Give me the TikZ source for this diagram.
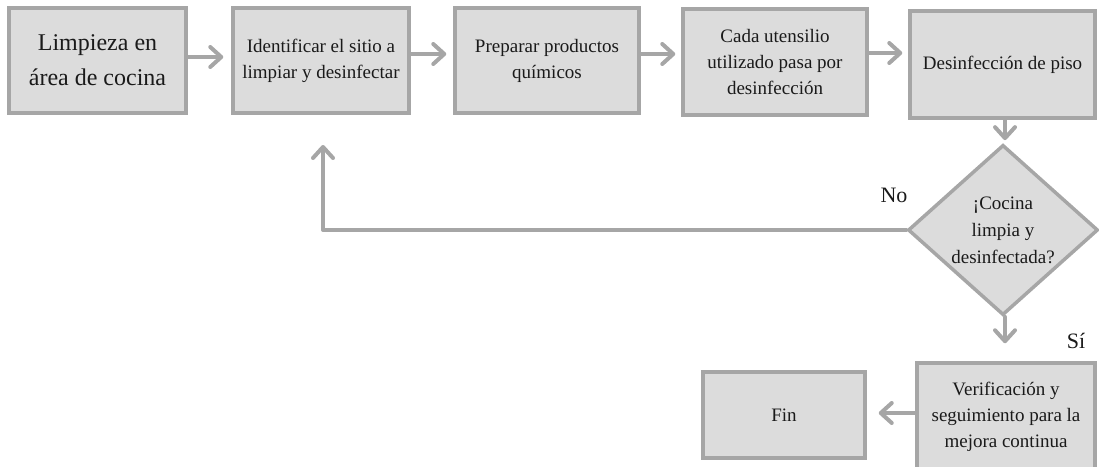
\documentclass[tikz,border=0pt]{standalone}
\usepackage{fontspec}
\setmainfont{Liberation Serif}
\usetikzlibrary{arrows.meta,shapes.geometric}
\definecolor{boxfill}{HTML}{DCDCDC}
\definecolor{boxline}{HTML}{A6A6A6}
\definecolor{txt}{HTML}{1A1A1A}
\begin{document}
\begin{tikzpicture}[x=1pt,y=-1pt,
  stepbox/.style={draw=boxline,fill=boxfill,line width=3.5pt,align=center,
    text=txt,inner sep=2pt,font=\fontsize{19}{26}\selectfont},
  decision/.style={diamond,draw=boxline,fill=boxfill,line width=3.5pt,align=center,
    text=txt,inner sep=0pt,font=\fontsize{19}{27}\selectfont},
  flow/.style={draw=boxline,line width=4pt,line cap=round,line join=round,
    -{Straight Barb[length=11pt,width=20pt,line cap=round,line join=round]}},
  lbl/.style={text=txt,font=\fontsize{22}{26}\selectfont}]
\useasboundingbox (0,0) rectangle (1099,466);

% process steps along the top row
\node[stepbox,minimum width=177pt,minimum height=105pt,font=\fontsize{24}{35}\selectfont]
  (b1) at (97.5,60.5) {Limpieza en\\área de cocina};
\node[stepbox,minimum width=176pt,minimum height=105pt] (b2) at (321,60.5)
  {Identificar el sitio a\\limpiar y desinfectar};
\node[stepbox,minimum width=184pt,minimum height=105pt] (b3) at (547,60.5)
  {Preparar productos\\químicos};
\node[stepbox,minimum width=184pt,minimum height=106pt] (b4) at (775,62)
  {Cada utensilio\\utilizado pasa por\\desinfección};
\node[stepbox,minimum width=185pt,minimum height=107pt] (b5) at (1002.5,64.5)
  {Desinfección de piso};

% check
\node[decision,minimum width=190pt,minimum height=150pt] (d) at (1003,230)
  {¡Cocina\\limpia y\\desinfectada?};

% closing steps (the last box runs past the lower edge)
\node[stepbox,minimum width=178pt,minimum height=108pt] (b6) at (1006,417)
  {Verificación y\\seguimiento para la\\mejora continua};
\node[stepbox,minimum width=162pt,minimum height=86pt] (fin) at (784,415) {Fin};

% connectors
\draw[flow,shorten >=8pt] (b1.east |- 0,57) -- (b2.west |- 0,57);
\draw[flow,shorten >=7pt] (b2.east |- 0,54) -- (b3.west |- 0,54);
\draw[flow,shorten >=6pt] (b3.east |- 0,54) -- (b4.west |- 0,54);
\draw[flow,shorten >=6pt] (b4.east |- 0,53) -- (b5.west |- 0,53);
\draw[flow,shorten >=3pt] (b5.south -| 1005,0) -- (d.north -| 1005,0);
\draw[flow,shorten >=18pt] (d.south -| 1005,0) -- (b6.north -| 1005,0);
\draw[flow,shorten >=12pt] (b6.west |- 0,413) -- (fin.east |- 0,413);

\coordinate (back) at (323,145);
\draw[flow] (d.west) -| (back);

% branch labels
\node[lbl] (no) at (894,195) {No};
\node[lbl] (si) at (1076,341) {Sí};
\end{tikzpicture}
\end{document}
